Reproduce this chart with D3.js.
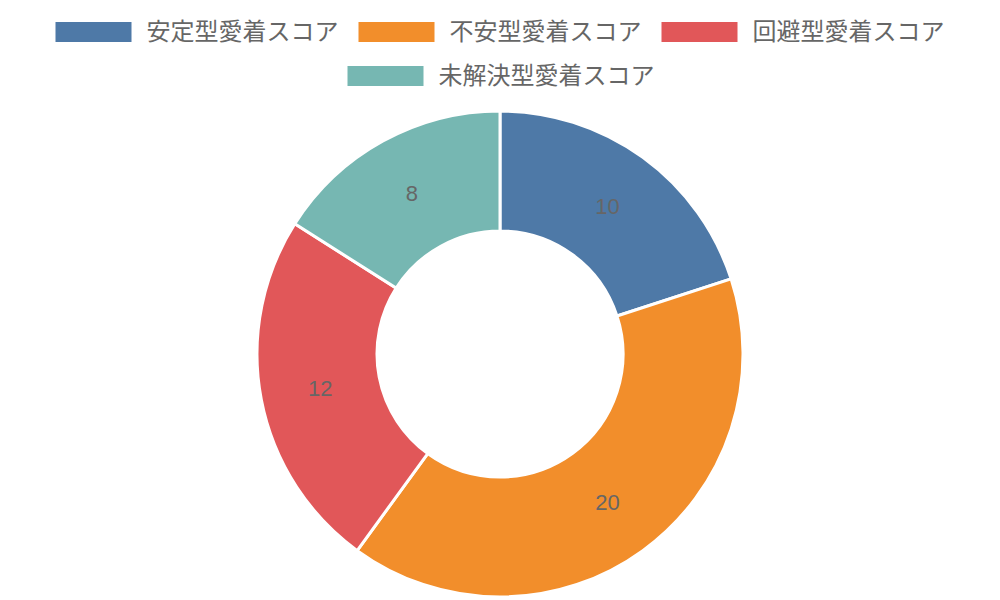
<!DOCTYPE html>
<html>
<head>
<meta charset="utf-8">
<script src="https://cdn.jsdelivr.net/npm/d3@7"></script>
<style>
  body { margin: 0; background: #fff; }
  text { font-family: "Liberation Sans", Arial, "Noto Sans CJK JP", sans-serif; }
</style>
</head>
<body>
<svg id="drawing_region"></svg>
<script>
// data
const categories = ['安定型愛着スコア', '不安型愛着スコア', '回避型愛着スコア', '未解決型愛着スコア'];
const scores = [10, 20, 12, 8];
const colors = ['#4E79A7', '#F28E2B', '#E15759', '#76B7B2'];

const width = 1000, height = 600;
const cx = 500, cy = 354;
const outer_r = 243, inner_r = 123;

const svg = d3.select('#drawing_region')
    .attr('width', width)
    .attr('height', height);

const color = d3.scaleOrdinal().domain(categories).range(colors);

const data = categories.map((c, i) => ({ label: c, value: scores[i] }));

// donut
const pie = d3.pie().sort(null).value(d => d.value);
const arc = d3.arc().innerRadius(inner_r).outerRadius(outer_r);
const label_arc = d3.arc().innerRadius((inner_r + outer_r) / 2).outerRadius((inner_r + outer_r) / 2);

const chart = svg.append('g')
    .attr('transform', `translate(${cx}, ${cy})`);

const arcs = pie(data);

chart.selectAll('path')
    .data(arcs)
    .enter()
    .append('path')
    .attr('d', arc)
    .attr('fill', d => color(d.data.label))
    .attr('stroke', '#fff')
    .attr('stroke-width', 3);

chart.selectAll('text.value')
    .data(arcs)
    .enter()
    .append('text')
    .attr('class', 'value')
    .attr('transform', d => `translate(${label_arc.centroid(d)})`)
    .attr('text-anchor', 'middle')
    .attr('dy', '0.35em')
    .style('font-size', '22px')
    .style('fill', '#666')
    .text(d => d.data.value);

// legend
const box_w = 76, box_h = 20, box_gap = 15, item_pad = 20;
const rows = [[0, 1, 2], [3]];
const row_y = [32, 76];
const row_shift = [0, 1];

const legend = svg.append('g');

rows.forEach((row, ri) => {
    const items = row.map(i => {
        const g = legend.append('g');
        g.append('rect')
            .attr('width', box_w)
            .attr('height', box_h)
            .attr('y', -box_h / 2)
            .attr('fill', color(categories[i]));
        const t = g.append('text')
            .attr('x', box_w + box_gap)
            .attr('dy', '0.35em')
            .style('font-size', '24px')
            .style('fill', '#666')
            .text(categories[i]);
        return { g: g, w: box_w + box_gap + t.node().getComputedTextLength() };
    });
    const row_w = d3.sum(items, d => d.w) + item_pad * (items.length - 1);
    let x = (width - row_w) / 2 + row_shift[ri];
    items.forEach(it => {
        it.g.attr('transform', `translate(${x}, ${row_y[ri]})`);
        x += it.w + item_pad;
    });
});
</script>
</body>
</html>
